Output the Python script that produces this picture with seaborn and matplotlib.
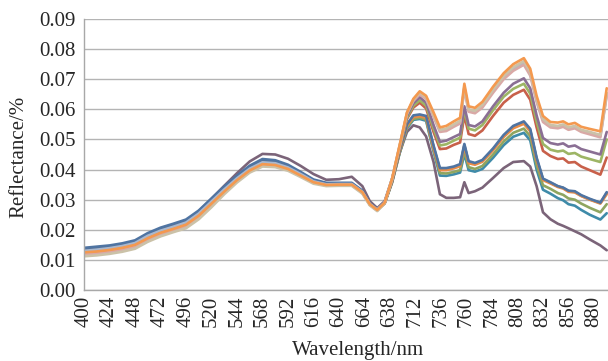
import numpy as np
import pandas as pd
import matplotlib
matplotlib.use("Agg")
import matplotlib.pyplot as plt
import seaborn as sns
from matplotlib.ticker import FixedLocator

# ---------------- data ----------------
wavelength = [400, 412, 424, 436, 448, 460, 472, 484, 496, 508, 520, 532, 544, 556, 568, 580,
              592, 604, 616, 628, 640, 652,
              662, 669, 676, 683, 690, 697, 704, 710, 716, 722,
              729, 735, 741, 748, 754, 758, 762, 768, 775, 785,
              795, 804, 814, 820, 826, 832, 839, 846, 851, 856,
              862, 868, 876, 886, 892]

tick_pos = [400, 424, 448, 472, 496, 520, 544, 568, 592, 616, 640, 664, 688, 712, 736, 760,
            784, 808, 832, 856, 880]
tick_labels = ["400", "424", "448", "472", "496", "520", "544", "568", "592", "616", "640",
               "664", "638", "712", "736", "760", "784", "808", "832", "856", "880"]
y_ticks = [0.00, 0.01, 0.02, 0.03, 0.04, 0.05, 0.06, 0.07, 0.08, 0.09]

hi_orange = [0.0125, 0.0128, 0.0133, 0.0140, 0.0150, 0.0172, 0.0190, 0.0203, 0.0217, 0.0247, 0.0287,
             0.0327, 0.0365, 0.0397, 0.0418, 0.0415, 0.0402, 0.0380, 0.0358, 0.0349, 0.0350, 0.0350,
             0.0325, 0.0285, 0.0266, 0.0290, 0.0370, 0.0480, 0.0590, 0.0635, 0.0660, 0.0645,
             0.0590, 0.0540, 0.0545, 0.0560, 0.0572, 0.0685, 0.0610, 0.0605, 0.0625, 0.0675,
             0.0720, 0.0750, 0.0770, 0.0735, 0.0645, 0.0578, 0.0558, 0.0556, 0.0560, 0.0550,
             0.0555, 0.0542, 0.0535, 0.0527, 0.0670]
hi_tan = [0.0112, 0.0115, 0.0120, 0.0127, 0.0137, 0.0160, 0.0178, 0.0192, 0.0205, 0.0235, 0.0275,
          0.0318, 0.0357, 0.0390, 0.0410, 0.0408, 0.0396, 0.0375, 0.0353, 0.0345, 0.0346, 0.0346,
          0.0320, 0.0281, 0.0262, 0.0288, 0.0368, 0.0478, 0.0588, 0.0632, 0.0656, 0.0640,
          0.0582, 0.0532, 0.0536, 0.0550, 0.0562, 0.0675, 0.0600, 0.0595, 0.0615, 0.0665,
          0.0710, 0.0740, 0.0760, 0.0725, 0.0635, 0.0568, 0.0548, 0.0545, 0.0550, 0.0540,
          0.0545, 0.0532, 0.0525, 0.0515, 0.0655]
hi_pink = [0.0118, 0.0121, 0.0126, 0.0133, 0.0143, 0.0166, 0.0184, 0.0197, 0.0211, 0.0241, 0.0281,
           0.0322, 0.0361, 0.0393, 0.0414, 0.0412, 0.0399, 0.0378, 0.0356, 0.0347, 0.0348, 0.0348,
           0.0322, 0.0283, 0.0264, 0.0289, 0.0368, 0.0476, 0.0585, 0.0628, 0.0650, 0.0634,
           0.0575, 0.0525, 0.0528, 0.0542, 0.0553, 0.0668, 0.0592, 0.0587, 0.0606, 0.0655,
           0.0700, 0.0728, 0.0748, 0.0712, 0.0625, 0.0558, 0.0540, 0.0537, 0.0542, 0.0532,
           0.0537, 0.0525, 0.0517, 0.0507, 0.0645]
hi_lightblue = [0.0130, 0.0134, 0.0139, 0.0146, 0.0156, 0.0180, 0.0197, 0.0210, 0.0224, 0.0254, 0.0294,
                0.0334, 0.0371, 0.0403, 0.0424, 0.0421, 0.0407, 0.0385, 0.0361, 0.0351, 0.0352, 0.0352,
                0.0326, 0.0286, 0.0267, 0.0291, 0.0370, 0.0478, 0.0587, 0.0630, 0.0653, 0.0637,
                0.0579, 0.0529, 0.0533, 0.0547, 0.0558, 0.0672, 0.0597, 0.0592, 0.0611, 0.0661,
                0.0706, 0.0735, 0.0755, 0.0720, 0.0630, 0.0563, 0.0545, 0.0541, 0.0547, 0.0537,
                0.0542, 0.0529, 0.0521, 0.0511, 0.0650]
hi_purple = [0.0128, 0.0132, 0.0137, 0.0144, 0.0154, 0.0177, 0.0195, 0.0208, 0.0222, 0.0252, 0.0292,
             0.0332, 0.0369, 0.0401, 0.0422, 0.0419, 0.0405, 0.0383, 0.0360, 0.0350, 0.0351, 0.0351,
             0.0325, 0.0285, 0.0266, 0.0290, 0.0368, 0.0474, 0.0578, 0.0620, 0.0640, 0.0622,
             0.0548, 0.0492, 0.0496, 0.0508, 0.0518, 0.0610, 0.0548, 0.0543, 0.0560, 0.0610,
             0.0655, 0.0685, 0.0703, 0.0670, 0.0580, 0.0505, 0.0488, 0.0483, 0.0487, 0.0476,
             0.0480, 0.0468, 0.0460, 0.0450, 0.0525]
hi_green = [0.0120, 0.0124, 0.0129, 0.0136, 0.0146, 0.0169, 0.0187, 0.0200, 0.0214, 0.0244, 0.0284,
            0.0325, 0.0363, 0.0395, 0.0416, 0.0414, 0.0401, 0.0380, 0.0357, 0.0348, 0.0349, 0.0349,
            0.0324, 0.0284, 0.0265, 0.0289, 0.0366, 0.0470, 0.0572, 0.0612, 0.0630, 0.0612,
            0.0536, 0.0480, 0.0484, 0.0496, 0.0506, 0.0598, 0.0536, 0.0530, 0.0548, 0.0597,
            0.0642, 0.0668, 0.0685, 0.0652, 0.0560, 0.0485, 0.0466, 0.0460, 0.0463, 0.0452,
            0.0455, 0.0443, 0.0435, 0.0425, 0.0500]
hi_red = [0.0122, 0.0126, 0.0131, 0.0138, 0.0148, 0.0170, 0.0188, 0.0201, 0.0215, 0.0245, 0.0285,
          0.0326, 0.0364, 0.0396, 0.0417, 0.0415, 0.0402, 0.0381, 0.0358, 0.0349, 0.0350, 0.0350,
          0.0324, 0.0284, 0.0265, 0.0289, 0.0365, 0.0468, 0.0568, 0.0606, 0.0622, 0.0603,
          0.0525, 0.0468, 0.0470, 0.0482, 0.0490, 0.0580, 0.0518, 0.0512, 0.0530, 0.0578,
          0.0622, 0.0648, 0.0665, 0.0632, 0.0540, 0.0462, 0.0445, 0.0435, 0.0437, 0.0423,
          0.0425, 0.0410, 0.0398, 0.0383, 0.0440]
lo_blue = [0.0140, 0.0144, 0.0148, 0.0155, 0.0165, 0.0189, 0.0207, 0.0220, 0.0234, 0.0264, 0.0304,
           0.0344, 0.0380, 0.0413, 0.0435, 0.0431, 0.0416, 0.0392, 0.0367, 0.0356, 0.0356, 0.0356,
           0.0330, 0.0288, 0.0268, 0.0290, 0.0362, 0.0462, 0.0550, 0.0580, 0.0583, 0.0578,
           0.0480, 0.0405, 0.0405, 0.0410, 0.0418, 0.0485, 0.0428, 0.0422, 0.0432, 0.0470,
           0.0515, 0.0545, 0.0560, 0.0535, 0.0440, 0.0370, 0.0358, 0.0345, 0.0340, 0.0330,
           0.0328, 0.0315, 0.0303, 0.0290, 0.0325]
lo_orange = [0.0124, 0.0127, 0.0132, 0.0139, 0.0149, 0.0171, 0.0189, 0.0202, 0.0216, 0.0246, 0.0286,
             0.0327, 0.0366, 0.0398, 0.0419, 0.0416, 0.0403, 0.0381, 0.0359, 0.0349, 0.0350, 0.0350,
             0.0325, 0.0285, 0.0266, 0.0289, 0.0360, 0.0458, 0.0545, 0.0574, 0.0577, 0.0572,
             0.0472, 0.0398, 0.0398, 0.0404, 0.0411, 0.0478, 0.0421, 0.0416, 0.0426, 0.0464,
             0.0508, 0.0537, 0.0552, 0.0527, 0.0432, 0.0365, 0.0354, 0.0342, 0.0337, 0.0326,
             0.0324, 0.0312, 0.0300, 0.0287, 0.0318]
lo_slate = [0.0136, 0.0140, 0.0144, 0.0151, 0.0161, 0.0185, 0.0203, 0.0216, 0.0230, 0.0260, 0.0300,
            0.0340, 0.0377, 0.0409, 0.0430, 0.0427, 0.0412, 0.0389, 0.0364, 0.0354, 0.0354, 0.0354,
            0.0328, 0.0287, 0.0267, 0.0290, 0.0361, 0.0460, 0.0547, 0.0577, 0.0580, 0.0575,
            0.0476, 0.0401, 0.0401, 0.0407, 0.0414, 0.0481, 0.0424, 0.0419, 0.0429, 0.0467,
            0.0511, 0.0541, 0.0556, 0.0531, 0.0436, 0.0368, 0.0356, 0.0344, 0.0339, 0.0328,
            0.0326, 0.0313, 0.0301, 0.0289, 0.0322]
lo_green = [0.0126, 0.0130, 0.0135, 0.0142, 0.0152, 0.0174, 0.0192, 0.0205, 0.0219, 0.0249, 0.0289,
            0.0330, 0.0368, 0.0400, 0.0421, 0.0418, 0.0404, 0.0382, 0.0360, 0.0350, 0.0351, 0.0351,
            0.0325, 0.0285, 0.0266, 0.0288, 0.0358, 0.0455, 0.0540, 0.0568, 0.0572, 0.0566,
            0.0465, 0.0388, 0.0387, 0.0392, 0.0398, 0.0462, 0.0408, 0.0402, 0.0412, 0.0450,
            0.0493, 0.0522, 0.0536, 0.0511, 0.0415, 0.0348, 0.0336, 0.0322, 0.0316, 0.0304,
            0.0300, 0.0287, 0.0273, 0.0258, 0.0285]
lo_teal = [0.0132, 0.0136, 0.0141, 0.0148, 0.0158, 0.0182, 0.0200, 0.0213, 0.0227, 0.0257, 0.0297,
           0.0337, 0.0374, 0.0406, 0.0427, 0.0424, 0.0409, 0.0387, 0.0362, 0.0352, 0.0352, 0.0352,
           0.0326, 0.0286, 0.0266, 0.0288, 0.0357, 0.0453, 0.0537, 0.0565, 0.0568, 0.0562,
           0.0460, 0.0380, 0.0379, 0.0384, 0.0390, 0.0452, 0.0398, 0.0393, 0.0402, 0.0439,
           0.0481, 0.0509, 0.0522, 0.0497, 0.0400, 0.0333, 0.0320, 0.0305, 0.0298, 0.0285,
           0.0280, 0.0266, 0.0250, 0.0234, 0.0255]
low_purple = [0.0128, 0.0132, 0.0137, 0.0145, 0.0156, 0.0180, 0.0199, 0.0213, 0.0228, 0.0261, 0.0303,
              0.0346, 0.0388, 0.0427, 0.0452, 0.0450, 0.0436, 0.0412, 0.0385, 0.0366, 0.0368, 0.0376,
              0.0345, 0.0295, 0.0272, 0.0295, 0.0370, 0.0455, 0.0525, 0.0547, 0.0540, 0.0510,
              0.0425, 0.0318, 0.0306, 0.0306, 0.0308, 0.0358, 0.0322, 0.0328, 0.0340, 0.0372,
              0.0405, 0.0425, 0.0428, 0.0410, 0.0345, 0.0258, 0.0235, 0.0220, 0.0213, 0.0205,
              0.0195, 0.0185, 0.0168, 0.0148, 0.0132]

series_names = ["low_purple", "lo_teal", "lo_green", "lo_slate", "lo_orange", "lo_blue",
                "hi_red", "hi_green", "hi_purple", "hi_lightblue", "hi_pink", "hi_tan", "hi_orange"]
series_values = [low_purple, lo_teal, lo_green, lo_slate, lo_orange, lo_blue,
                 hi_red, hi_green, hi_purple, hi_lightblue, hi_pink, hi_tan, hi_orange]
series_colors = ["#7B6479", "#3F8BA9", "#8FA560", "#566F93", "#E98C47", "#4F74A2",
                 "#C8604A", "#9DB565", "#8A6F94", "#A9B8CE", "#D9A9A6", "#CBC2A8", "#F4994F"]

rows = []
for name, vals in zip(series_names, series_values):
    n = min(len(vals), len(wavelength))
    for w, v in zip(wavelength[:n], vals[:n]):
        rows.append((name, w, v))
df = pd.DataFrame(rows, columns=["series", "wl", "refl"])

# ---------------- plot ----------------
sns.set_style("white")
plt.rcParams["font.family"] = ["Liberation Serif", "DejaVu Serif"]

fig = plt.figure(figsize=(6.08, 3.61), dpi=100)
ax = fig.add_axes([84 / 608, 1 - 290 / 361, 1 - 84 / 608, 271 / 361])

sns.lineplot(data=df, x="wl", y="refl", hue="series", hue_order=series_names,
             palette=dict(zip(series_names, series_colors)), estimator=None, sort=False,
             lw=1.9, legend=False, ax=ax)

ax.set_xlim(400, 893.2)
ax.set_ylim(0, 0.09)
ax.set_yticks(y_ticks)
ax.set_yticklabels([f"{t:.2f}" for t in y_ticks], fontsize=15)
ax.set_xticks(tick_pos)
ax.set_xticklabels(tick_labels, rotation=90, fontsize=15)
ax.xaxis.set_minor_locator(FixedLocator(list(range(400, 894, 1))))
ax.tick_params(axis="x", which="both", direction="out", length=3, width=0.6,
               color="#9A9A9A", pad=1)
ax.tick_params(axis="y", which="major", direction="out", length=5, width=0.8,
               color="#9A9A9A", pad=1)
ax.grid(axis="y", color="#B4B4B4", lw=1.0)
ax.grid(axis="x", visible=False)
ax.set_axisbelow(True)
for side in ["top", "right"]:
    ax.spines[side].set_visible(False)
for side in ["left", "bottom"]:
    ax.spines[side].set_color("#A8A8A8")
    ax.spines[side].set_linewidth(1.0)
ax.set_xlabel("")
ax.set_ylabel("")

fig.text(358 / 608, 1 - 350 / 361, "Wavelength/nm", ha="center", va="center", fontsize=15)
fig.text(19 / 608, 1 - 157 / 361, "Reflectance/%", ha="center", va="center",
         rotation=90, fontsize=15)

fig.savefig("out.png", dpi=100)
